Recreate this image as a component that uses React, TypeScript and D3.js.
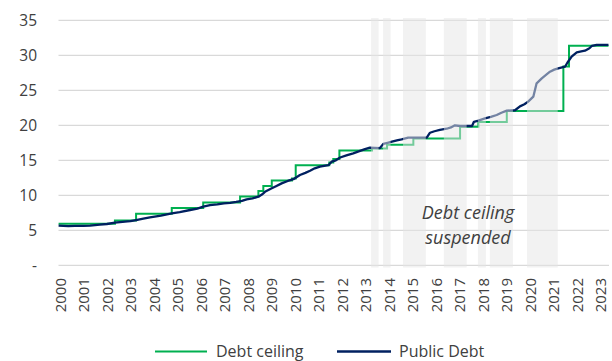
import React from "react";
import * as d3 from "d3";

// Chart frame
const W = 612;
const H = 361;

// Year tick labels along the bottom axis
const yearLabels = d3.range(2000, 2024).map(String);

// Value axis ticks (trillions of dollars); zero is shown as "-"
const valueTicks = [0, 5, 10, 15, 20, 25, 30, 35];

// Debt ceiling: decimal year of each change and the new limit (trillions)
const ceilingDates = [
  1999.94, 2002.34, 2003.24, 2004.76, 2006.1, 2007.67, 2008.45, 2008.66, 2009.02,
  2009.88, 2010.04, 2011.47, 2011.64, 2011.9, 2013.29, 2013.93, 2015.05, 2017.04,
  2017.82, 2019.03, 2021.44, 2021.68, 2023.36,
];
const ceilingValues = [
  5.95, 6.4, 7.38, 8.18, 8.97, 9.82, 10.62, 11.32, 12.1,
  12.39, 14.29, 14.69, 15.19, 16.39, 16.7, 17.21, 18.11, 19.81,
  20.46, 22.03, 28.4, 31.38, 31.38,
];

// Public debt outstanding (trillions)
const debtDates = [
  1999.94, 2000.35, 2000.64, 2001.0, 2001.28, 2001.7, 2002.0, 2002.34, 2002.77, 2003.0,
  2003.24, 2003.55, 2003.83, 2004.3, 2004.76, 2005.1, 2005.54, 2005.85, 2006.1, 2006.39,
  2006.7, 2006.98, 2007.25, 2007.5, 2007.75, 2007.95, 2008.2, 2008.45, 2008.6, 2008.73,
  2009.02, 2009.2, 2009.44, 2009.7, 2009.94, 2010.22, 2010.45, 2010.65, 2010.85, 2011.07,
  2011.43, 2011.57, 2011.75, 2011.93, 2012.2, 2012.49, 2012.75, 2012.99, 2013.2, 2013.63,
  2013.77, 2013.95, 2014.14, 2014.35, 2014.55, 2014.83, 2015.2, 2015.62, 2015.76, 2015.95,
  2016.18, 2016.47, 2016.65, 2016.82, 2017.04, 2017.55, 2017.63, 2017.82, 2018.1, 2018.35,
  2018.6, 2018.8, 2019.03, 2019.38, 2019.59, 2019.78, 2019.94, 2020.16, 2020.3, 2020.52,
  2020.7, 2020.87, 2021.05, 2021.22, 2021.51, 2021.61, 2021.79, 2022.01, 2022.2, 2022.36,
  2022.55, 2022.65, 2022.86, 2023.36,
];
const debtValues = [
  5.66, 5.6, 5.62, 5.64, 5.66, 5.8, 5.9, 6.09, 6.25, 6.3,
  6.47, 6.68, 6.85, 7.1, 7.43, 7.6, 7.9, 8.1, 8.37, 8.61,
  8.7, 8.85, 8.92, 9.05, 9.2, 9.43, 9.55, 9.8, 10.1, 10.5,
  11.0, 11.3, 11.7, 12.05, 12.3, 12.9, 13.2, 13.5, 13.85, 14.1,
  14.3, 14.8, 15.0, 15.4, 15.7, 16.0, 16.3, 16.6, 16.8, 16.75,
  17.35, 17.5, 17.66, 17.85, 18.0, 18.25, 18.25, 18.25, 18.94, 19.15,
  19.33, 19.51, 19.7, 20.0, 19.9, 19.9, 20.5, 20.66, 21.0, 21.2,
  21.47, 21.8, 22.1, 22.15, 22.7, 23.0, 23.38, 24.09, 26.0, 26.71,
  27.2, 27.66, 27.95, 28.14, 28.37, 28.94, 29.8, 30.43, 30.55, 30.66,
  31.0, 31.33, 31.5, 31.5,
];

// Periods when the debt ceiling was suspended (decimal years)
const suspendStart = [2013.25, 2013.76, 2014.61, 2016.35, 2017.8, 2018.31, 2019.89];
const suspendEnd = [2013.57, 2014.08, 2015.58, 2017.32, 2018.14, 2019.29, 2021.2];

const GREEN = "#00b050";
const NAVY = "#002060";
const TEXT = "#404040";
const FONT = "'Open Sans', 'Noto Sans', sans-serif";

export default function App() {
  const x = d3.scaleLinear().domain([2000, 2023]).range([60, 600]);
  const y = d3.scaleLinear().domain([0, 35]).range([265.3, 20.3]);
  const plotLeft = 58.5;
  const plotRight = 609;

  const ceiling = ceilingDates.map((t, i) => [t, ceilingValues[i]] as [number, number]);
  const debt = debtDates.map((t, i) => [t, debtValues[i]] as [number, number]);

  const stepLine = d3
    .line<[number, number]>()
    .x((d) => x(d[0]))
    .y((d) => y(d[1]))
    .curve(d3.curveStepAfter);
  const debtLine = d3
    .line<[number, number]>()
    .x((d) => x(d[0]))
    .y((d) => y(d[1]));

  const bands = suspendStart.map((s, i) => [s, suspendEnd[i]]);

  return (
    <svg
      width={W}
      height={H}
      style={{ position: "fixed", left: 0, top: 0, background: "#fff" }}
      fontFamily={FONT}
    >
      {/* horizontal gridlines */}
      {valueTicks.map((v) => (
        <line
          key={v}
          x1={plotLeft}
          x2={plotRight}
          y1={y(v)}
          y2={y(v)}
          stroke="#d9d9d9"
          strokeWidth={1.3}
        />
      ))}
      {/* value axis labels */}
      {valueTicks.map((v) => (
        <text
          key={v}
          x={37}
          y={y(v)}
          textAnchor="end"
          dominantBaseline="central"
          fontSize={15.5}
          fill={TEXT}
        >
          {v === 0 ? "-" : v}
        </text>
      ))}
      {/* year labels, rotated */}
      {yearLabels.map((lab) => (
        <text
          key={lab}
          transform={`translate(${x(+lab)},278) rotate(-90)`}
          textAnchor="end"
          dominantBaseline="central"
          fontSize={15}
          fill={TEXT}
        >
          {lab}
        </text>
      ))}

      <path d={stepLine(ceiling) ?? ""} fill="none" stroke={GREEN} strokeWidth={2} />
      <path
        d={debtLine(debt) ?? ""}
        fill="none"
        stroke={NAVY}
        strokeWidth={2.3}
        strokeLinejoin="round"
      />

      {/* suspension periods shaded over the lines */}
      {bands.map(([s, e], i) => (
        <rect
          key={i}
          x={x(s)}
          width={x(e) - x(s)}
          y={18}
          height={249.5}
          fill="#e6e6e6"
          fillOpacity={0.5}
        />
      ))}

      <text
        x={468}
        y={212}
        textAnchor="middle"
        dominantBaseline="central"
        fontSize={18}
        fontStyle="italic"
        fill={TEXT}
      >
        Debt ceiling
      </text>
      <text
        x={468}
        y={237}
        textAnchor="middle"
        dominantBaseline="central"
        fontSize={18}
        fontStyle="italic"
        fill={TEXT}
      >
        suspended
      </text>

      {/* legend */}
      <line x1={155} x2={207} y1={351.5} y2={351.5} stroke={GREEN} strokeWidth={2} />
      <text x={216} y={351} dominantBaseline="central" fontSize={16} fill={TEXT}>
        Debt ceiling
      </text>
      <line x1={337} x2={391} y1={351.5} y2={351.5} stroke={NAVY} strokeWidth={2.3} />
      <text x={399} y={351} dominantBaseline="central" fontSize={16} fill={TEXT}>
        Public Debt
      </text>
    </svg>
  );
}
